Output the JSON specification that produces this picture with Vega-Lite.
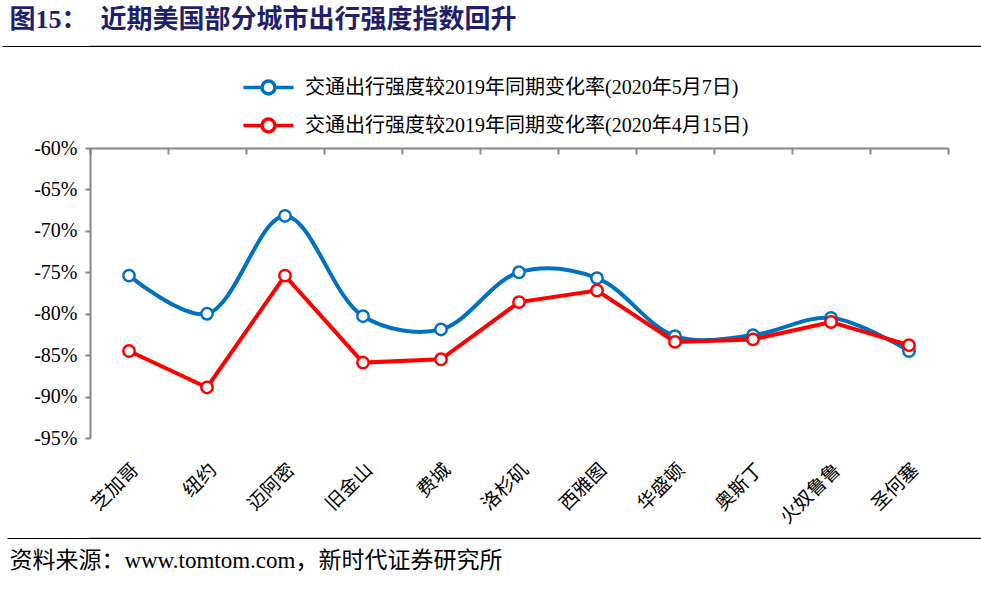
{
  "$schema": "https://vega.github.io/schema/vega-lite/v6.json",
  "padding": {"left": 0, "top": 6, "right": 0, "bottom": 0},
  "background": "white",
  "config": {"font": "Liberation Serif, Noto Sans CJK SC", "view": {"stroke": null}},
  "datasets": {
    "d": [
      {"city": "芝加哥", "series": "交通出行强度较2019年同期变化率(2020年5月7日)", "value": -75.4},
      {"city": "纽约", "series": "交通出行强度较2019年同期变化率(2020年5月7日)", "value": -80.0},
      {"city": "迈阿密", "series": "交通出行强度较2019年同期变化率(2020年5月7日)", "value": -68.2},
      {"city": "旧金山", "series": "交通出行强度较2019年同期变化率(2020年5月7日)", "value": -80.3},
      {"city": "费城", "series": "交通出行强度较2019年同期变化率(2020年5月7日)", "value": -81.9},
      {"city": "洛杉矶", "series": "交通出行强度较2019年同期变化率(2020年5月7日)", "value": -75.0},
      {"city": "西雅图", "series": "交通出行强度较2019年同期变化率(2020年5月7日)", "value": -75.7},
      {"city": "华盛顿", "series": "交通出行强度较2019年同期变化率(2020年5月7日)", "value": -82.7},
      {"city": "奥斯丁", "series": "交通出行强度较2019年同期变化率(2020年5月7日)", "value": -82.6},
      {"city": "火奴鲁鲁", "series": "交通出行强度较2019年同期变化率(2020年5月7日)", "value": -80.5},
      {"city": "圣何塞", "series": "交通出行强度较2019年同期变化率(2020年5月7日)", "value": -84.5},
      {"city": "芝加哥", "series": "交通出行强度较2019年同期变化率(2020年4月15日)", "value": -84.5},
      {"city": "纽约", "series": "交通出行强度较2019年同期变化率(2020年4月15日)", "value": -88.9},
      {"city": "迈阿密", "series": "交通出行强度较2019年同期变化率(2020年4月15日)", "value": -75.4},
      {"city": "旧金山", "series": "交通出行强度较2019年同期变化率(2020年4月15日)", "value": -85.9},
      {"city": "费城", "series": "交通出行强度较2019年同期变化率(2020年4月15日)", "value": -85.5},
      {"city": "洛杉矶", "series": "交通出行强度较2019年同期变化率(2020年4月15日)", "value": -78.6},
      {"city": "西雅图", "series": "交通出行强度较2019年同期变化率(2020年4月15日)", "value": -77.2},
      {"city": "华盛顿", "series": "交通出行强度较2019年同期变化率(2020年4月15日)", "value": -83.4},
      {"city": "奥斯丁", "series": "交通出行强度较2019年同期变化率(2020年4月15日)", "value": -83.1},
      {"city": "火奴鲁鲁", "series": "交通出行强度较2019年同期变化率(2020年4月15日)", "value": -81.0},
      {"city": "圣何塞", "series": "交通出行强度较2019年同期变化率(2020年4月15日)", "value": -83.8}
    ]
  },
  "spacing": 3,
  "resolve": {"legend": {"color": "independent"}},
  "vconcat": [
    {
      "width": 893,
      "height": 0.1,
      "view": {"stroke": "black", "strokeWidth": 1.2},
      "title": {"text": "图15：\u00a0\u00a0近期美国部分城市出行强度指数回升", "anchor": "start", "dx": 8, "fontSize": 26, "fontWeight": "bold", "color": "#1F1F6B", "font": "Liberation Serif, Noto Sans CJK SC", "offset": 7},
      "data": {"values": [{}]},
      "mark": {"type": "text", "text": ""},
      "encoding": {
        "y": {"datum": 1, "type": "quantitative", "scale": {"domain": [0, 1]},
          "axis": {"values": [1], "labels": false, "domain": false, "grid": false, "ticks": true, "tickSize": 88, "tickColor": "black", "tickWidth": 1.2, "title": null}}
      }
    },
    {
      "resolve": {"legend": {"color": "independent"}},
      "hconcat": [
        {
          "width": 858,
          "height": 290,
          "data": {"name": "d"},
          "encoding": {
            "y": {
              "field": "value", "type": "quantitative",
              "scale": {"domain": [-95, -60], "nice": false, "zero": false},
              "axis": {"values": [-95, -90, -85, -80, -75, -70, -65, -60], "labelExpr": "datum.value + '%'", "grid": false, "domainColor": "#868686", "domainWidth": 2, "tickColor": "#868686", "tickWidth": 2, "tickSize": 5, "labelFontSize": 20, "labelColor": "black", "labelFont": "Liberation Serif", "labelPadding": 8, "title": null, "minExtent": 88, "maxExtent": 88}
            },
            "color": {
              "field": "series", "type": "nominal",
              "scale": {"domain": ["交通出行强度较2019年同期变化率(2020年5月7日)", "交通出行强度较2019年同期变化率(2020年4月15日)"], "range": ["#0070C0", "#FF0000"]},
              "legend": {"orient": "none", "legendX": 159, "legendY": -80, "direction": "vertical", "title": null, "labelFontSize": 20, "labelFont": "Liberation Serif, Noto Sans CJK SC", "labelColor": "black", "symbolType": "M-1.43,0H-0.37M0.37,0H1.43M0.37,0A0.37,0.37,0,1,1,-0.37,0A0.37,0.37,0,1,1,0.37,0Z", "symbolSize": 1225, "symbolStrokeWidth": 3.5, "symbolFillColor": "white", "labelOffset": 17, "rowPadding": 5, "labelLimit": 700}
            }
          },
          "layer": [
            {
              "transform": [{"filter": "datum.series === '交通出行强度较2019年同期变化率(2020年5月7日)'"}],
              "mark": {"type": "line", "interpolate": "catmull-rom", "strokeWidth": 4},
              "encoding": {
                "x": {"field": "city", "type": "nominal", "sort": ["芝加哥", "纽约", "迈阿密", "旧金山", "费城", "洛杉矶", "西雅图", "华盛顿", "奥斯丁", "火奴鲁鲁", "圣何塞"], "scale": {"type": "band", "paddingInner": 0, "paddingOuter": 0}, "bandPosition": 0.5,
                  "axis": {"orient": "top", "labels": false, "domainColor": "#868686", "domainWidth": 2, "tickColor": "#868686", "tickWidth": 2, "tickSize": -6, "tickBand": "extent", "title": null, "minExtent": 93, "maxExtent": 93}}
              }
            },
            {
              "transform": [{"filter": "datum.series === '交通出行强度较2019年同期变化率(2020年5月7日)'"}],
              "mark": {"type": "point", "filled": false, "fill": "white", "fillOpacity": 1, "opacity": 1, "size": 130, "strokeWidth": 2.5},
              "encoding": {
                "x": {"field": "city", "type": "nominal", "sort": ["芝加哥", "纽约", "迈阿密", "旧金山", "费城", "洛杉矶", "西雅图", "华盛顿", "奥斯丁", "火奴鲁鲁", "圣何塞"], "scale": {"type": "band", "paddingInner": 0, "paddingOuter": 0}, "bandPosition": 0.5,
                  "axis": {"orient": "bottom", "labelAngle": -45, "labelFontSize": 19, "labelFont": "Noto Sans CJK SC", "labelColor": "black", "domain": false, "ticks": false, "labelPadding": 22, "title": null, "minExtent": 79, "maxExtent": 79}}
              }
            },
            {
              "transform": [{"filter": "datum.series === '交通出行强度较2019年同期变化率(2020年4月15日)'"}],
              "mark": {"type": "line", "strokeWidth": 4},
              "encoding": {
                "x": {"field": "city", "type": "nominal", "sort": ["芝加哥", "纽约", "迈阿密", "旧金山", "费城", "洛杉矶", "西雅图", "华盛顿", "奥斯丁", "火奴鲁鲁", "圣何塞"], "scale": {"type": "band", "paddingInner": 0, "paddingOuter": 0}, "bandPosition": 0.5, "axis": null}
              }
            },
            {
              "transform": [{"filter": "datum.series === '交通出行强度较2019年同期变化率(2020年4月15日)'"}],
              "mark": {"type": "point", "filled": false, "fill": "white", "fillOpacity": 1, "opacity": 1, "size": 130, "strokeWidth": 2.5},
              "encoding": {
                "x": {"field": "city", "type": "nominal", "sort": ["芝加哥", "纽约", "迈阿密", "旧金山", "费城", "洛杉矶", "西雅图", "华盛顿", "奥斯丁", "火奴鲁鲁", "圣何塞"], "scale": {"type": "band", "paddingInner": 0, "paddingOuter": 0}, "bandPosition": 0.5, "axis": null}
              }
            }
          ],
          "resolve": {"axis": {"x": "independent"}}
        }
      ]
    },
    {
      "width": 893,
      "height": 0.1,
      "view": {"stroke": "black", "strokeWidth": 1.2},
      "title": {"text": "资料来源：www.tomtom.com，新时代证券研究所", "orient": "bottom", "anchor": "start", "dx": 3, "fontSize": 23, "fontWeight": "normal", "color": "black", "font": "Liberation Serif, Noto Sans CJK SC", "offset": 7},
      "data": {"values": [{}]},
      "mark": {"type": "text", "text": ""},
      "encoding": {
        "y": {"datum": 1, "type": "quantitative", "scale": {"domain": [0, 1]},
          "axis": {"values": [1], "labels": false, "domain": false, "grid": false, "ticks": true, "tickSize": 83, "tickColor": "black", "tickWidth": 1.2, "title": null}}
      }
    }
  ]
}
